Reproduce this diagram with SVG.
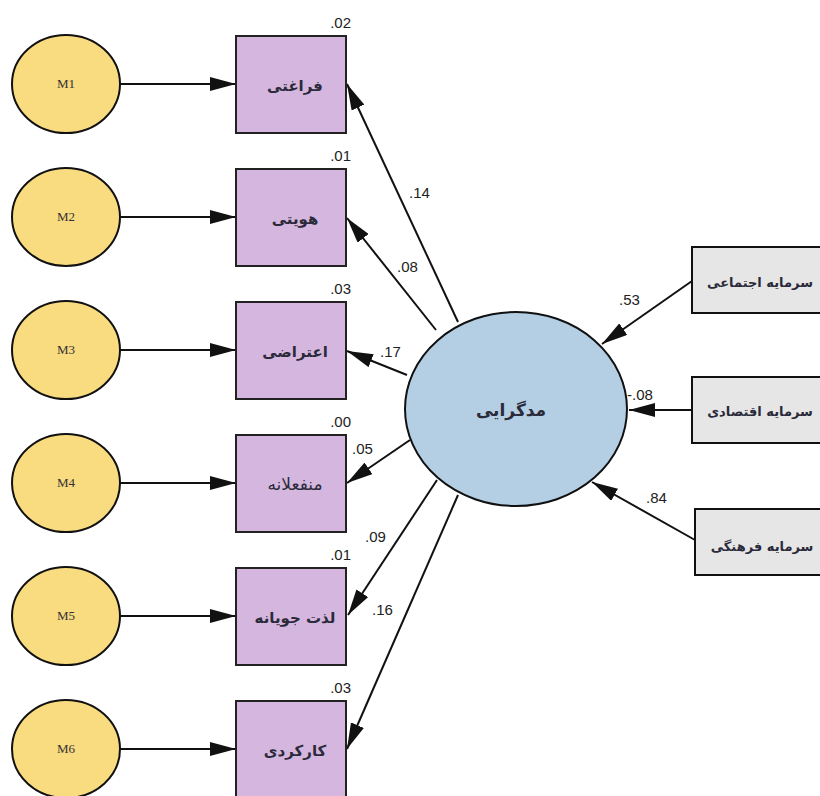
<svg xmlns="http://www.w3.org/2000/svg" width="820" height="796" viewBox="0 0 820 796">
<style>
.m{fill:#F9DB80;stroke:#111;stroke-width:2}
.mt{font-family:"Liberation Serif",serif;font-size:13px;fill:#333;text-anchor:middle}
.b{fill:#D5B6DE;stroke:#222;stroke-width:2}
.g{fill:#E6E6E6;stroke:#111;stroke-width:2}
.fa{font-family:"DejaVu Sans",sans-serif;font-size:13px;font-weight:bold;fill:#2a2a3a;text-anchor:middle}
.fb{font-size:15px}
.fc{font-size:17px}
.nw{font-weight:normal;font-size:17px}
.n{font-family:"Liberation Sans",Arial,sans-serif;font-size:15px;fill:#222}
.c line{stroke:#111;stroke-width:2;marker-end:url(#ah)}
</style>
<defs>
<marker id="ah" markerUnits="userSpaceOnUse" markerWidth="26" markerHeight="14" refX="26" refY="7" orient="auto">
<path d="M0,0 L26,7 L0,14 z" fill="#111"/>
</marker>
</defs>
<rect width="820" height="796" fill="#ffffff"/>

<g class="c" id="connectors">
<line x1="120" y1="84" x2="236" y2="84"/>
<line x1="120" y1="217" x2="236" y2="217"/>
<line x1="120" y1="350" x2="236" y2="350"/>
<line x1="120" y1="483" x2="236" y2="483"/>
<line x1="120" y1="616" x2="236" y2="616"/>
<line x1="120" y1="749" x2="236" y2="749"/>
<line x1="458" y1="322" x2="347" y2="84"/>
<line x1="436" y1="330" x2="347" y2="218"/>
<line x1="407" y1="375" x2="347" y2="351"/>
<line x1="410" y1="440" x2="347" y2="483"/>
<line x1="437" y1="480" x2="348" y2="615"/>
<line x1="458" y1="495" x2="347" y2="749"/>
<line x1="692" y1="281" x2="602" y2="344"/>
<line x1="692" y1="410" x2="629" y2="410"/>
<line x1="695" y1="540" x2="592" y2="482"/>
</g>

<g id="M1"><ellipse class="m" cx="66" cy="84" rx="54" ry="49"/><text class="mt" x="66" y="88">M1</text></g>
<g id="M2"><ellipse class="m" cx="66" cy="217" rx="54" ry="49"/><text class="mt" x="66" y="221">M2</text></g>
<g id="M3"><ellipse class="m" cx="66" cy="350" rx="54" ry="49"/><text class="mt" x="66" y="354">M3</text></g>
<g id="M4"><ellipse class="m" cx="66" cy="483" rx="54" ry="49"/><text class="mt" x="66" y="487">M4</text></g>
<g id="M5"><ellipse class="m" cx="66" cy="616" rx="54" ry="49"/><text class="mt" x="66" y="620">M5</text></g>
<g id="M6"><ellipse class="m" cx="66" cy="749" rx="54" ry="49"/><text class="mt" x="66" y="753">M6</text></g>

<g id="faraghati"><rect class="b" x="236" y="36" width="110" height="97"/><text class="fa fb" x="295" y="91">فراغتی</text><text class="n" x="351" y="28" text-anchor="end">.02</text></g>
<g id="hoviyati"><rect class="b" x="236" y="169" width="110" height="97"/><text class="fa fb" x="295" y="224">هویتی</text><text class="n" x="351" y="161" text-anchor="end">.01</text></g>
<g id="eterazi"><rect class="b" x="236" y="302" width="110" height="97"/><text class="fa fb" x="295" y="357">اعتراضی</text><text class="n" x="351" y="294" text-anchor="end">.03</text></g>
<g id="monfaelane"><rect class="b" x="236" y="435" width="110" height="97"/><text class="fa nw" x="295" y="490">منفعلانه</text><text class="n" x="351" y="427" text-anchor="end">.00</text></g>
<g id="lezzatjouyane"><rect class="b" x="236" y="568" width="110" height="97"/><text class="fa fb" x="295" y="623">لذت جویانه</text><text class="n" x="351" y="560" text-anchor="end">.01</text></g>
<g id="karkardi"><rect class="b" x="236" y="701" width="110" height="97"/><text class="fa fb" x="295" y="756">کارکردی</text><text class="n" x="351" y="693" text-anchor="end">.03</text></g>

<g id="modgarayi"><ellipse cx="516" cy="409" rx="111" ry="97" fill="#B4CEE3" stroke="#111" stroke-width="2"/><text class="fa fc" x="511" y="416">مدگرایی</text></g>

<g id="ejtemai"><rect class="g" x="692" y="247" width="130" height="66"/><text class="fa" x="760" y="287">سرمایه اجتماعی</text></g>
<g id="eghtesadi"><rect class="g" x="692" y="377" width="130" height="66"/><text class="fa" x="760" y="416">سرمایه اقتصادی</text></g>
<g id="farhangi"><rect class="g" x="695" y="509" width="127" height="66"/><text class="fa" x="762" y="551">سرمایه فرهنگی</text></g>

<g id="labels">
<text class="n" x="409" y="198">.14</text>
<text class="n" x="397" y="272">.08</text>
<text class="n" x="380" y="357">.17</text>
<text class="n" x="352" y="454">.05</text>
<text class="n" x="365" y="542">.09</text>
<text class="n" x="372" y="615">.16</text>
<text class="n" x="619" y="305">.53</text>
<text class="n" x="627" y="400">-.08</text>
<text class="n" x="646" y="503">.84</text>
</g>
</svg>
